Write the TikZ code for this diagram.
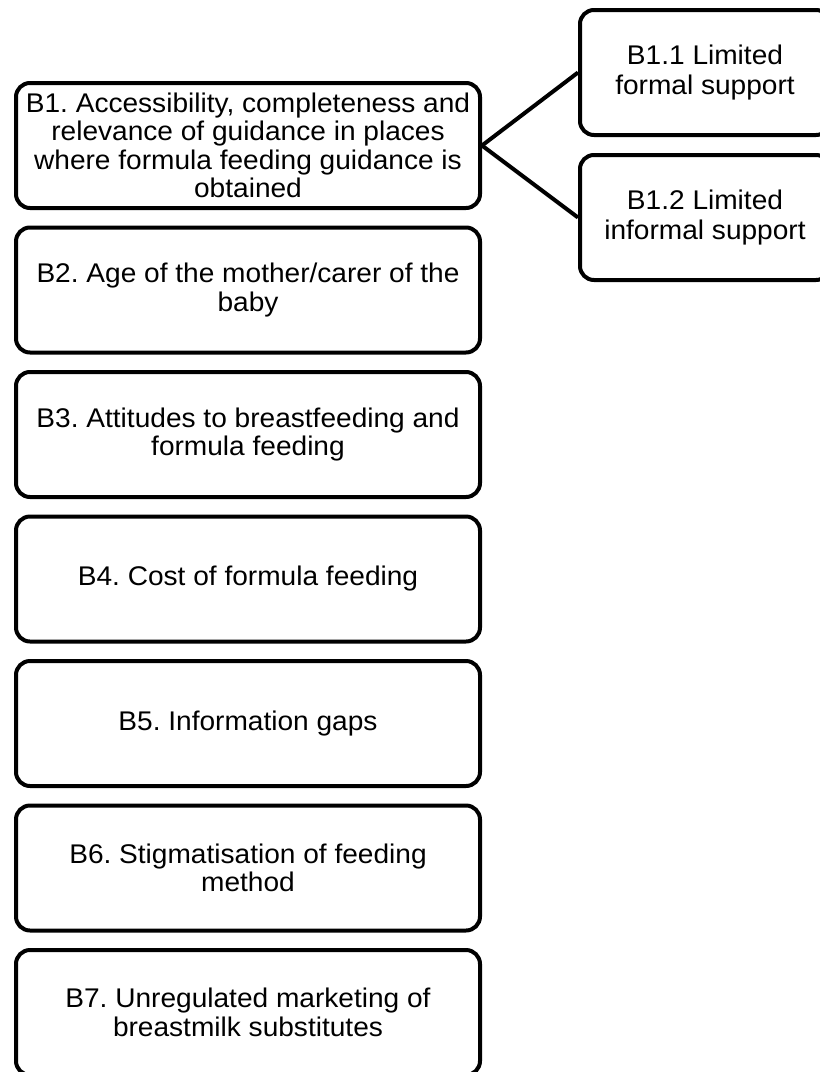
\documentclass[tikz,border=0pt]{standalone}
\usepackage{fontspec}
\setmainfont[FakeStretch=1.04]{Liberation Sans}
\frenchspacing
\begin{document}
\begin{tikzpicture}[x=1pt,y=-1pt,
  box/.style={draw=black, line width=4pt, rounded corners=14pt, fill=white,
    align=center, inner sep=0pt, font=\fontsize{27}{28.5}\selectfont},
  mainbox/.style={box, minimum width=464pt, minimum height=125pt},
  subbox/.style={box, minimum width=250pt, minimum height=125pt, font=\fontsize{27}{30.5}\selectfont},
  link/.style={draw=black, line width=4pt}]
\useasboundingbox (0,0) rectangle (820,1072);
\fill[white] (0,0) rectangle (820,1072);
\node[mainbox] (b1) at (248,145.5) {B1. Accessibility, completeness and\\relevance of guidance in places\\where formula feeding guidance is\\obtained};
\node[mainbox] (b2) at (248,290) {B2. Age of the mother/carer of the\\baby};
\node[mainbox] (b3) at (248,434.5) {B3. Attitudes to breastfeeding and\\formula feeding};
\node[mainbox] (b4) at (248,579) {B4. Cost of formula feeding};
\node[mainbox] (b5) at (248,723.5) {B5. Information gaps};
\node[mainbox] (b6) at (248,868) {B6. Stigmatisation of feeding\\method};
\node[mainbox] (b7) at (248,1012.5) {B7. Unregulated marketing of\\breastmilk substitutes};
\node[subbox] (b11) at (705,72.5) {B1.1 Limited\\formal support};
\node[subbox] (b12) at (705,217.5) {B1.2 Limited\\informal support};
\draw[link] (b1.east) -- (b11.west);
\draw[link] (b1.east) -- (b12.west);
\end{tikzpicture}
\end{document}
